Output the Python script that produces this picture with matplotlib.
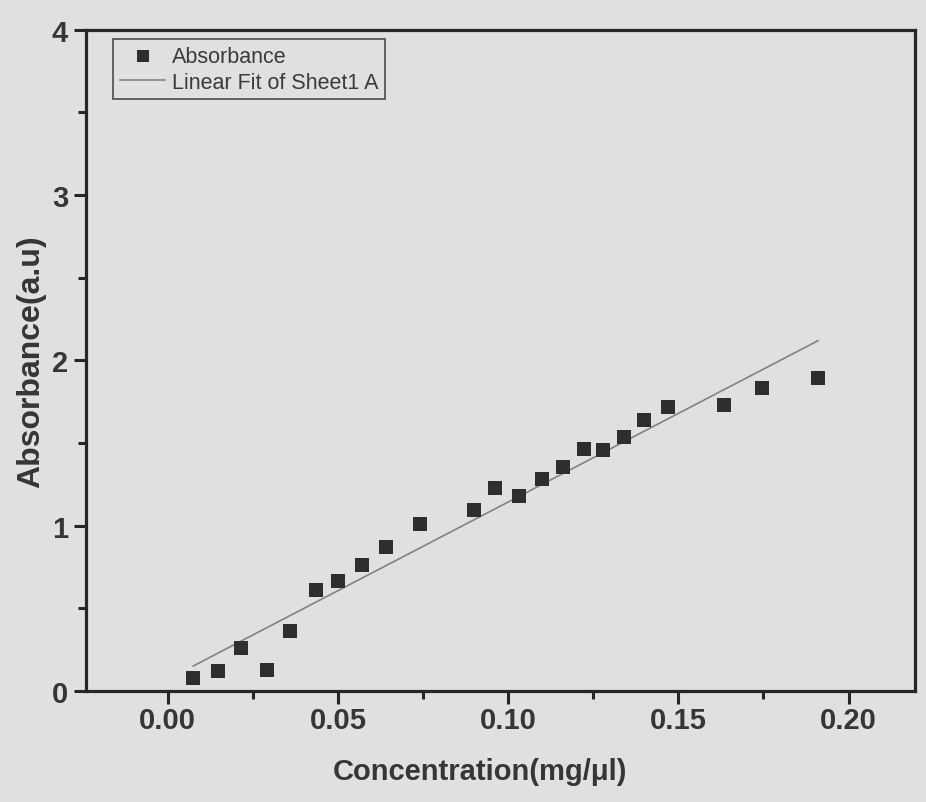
import numpy as np
import matplotlib
matplotlib.use("Agg")
import matplotlib.pyplot as plt
from matplotlib.ticker import MultipleLocator

# Data
concentration = [0.0075, 0.0147, 0.0216, 0.0290, 0.0360, 0.0434, 0.0500, 0.0570,
                 0.0640, 0.0740, 0.0900, 0.0960, 0.1033, 0.1099, 0.1160, 0.1224,
                 0.1280, 0.1340, 0.1400, 0.1470, 0.1635, 0.1745, 0.1910]
absorbance = [0.08, 0.12, 0.26, 0.13, 0.365, 0.61, 0.665, 0.765,
              0.87, 1.01, 1.095, 1.23, 1.18, 1.28, 1.355, 1.465,
              1.46, 1.535, 1.64, 1.72, 1.73, 1.835, 1.895]
x_ticks = [0.00, 0.05, 0.10, 0.15, 0.20]
x_ticklabels = ["0.00", "0.05", "0.10", "0.15", "0.20"]
y_ticks = [0, 1, 2, 3, 4]
y_ticklabels = ["0", "1", "2", "3", "4"]

plt.rcParams['font.family'] = ['Liberation Sans', 'DejaVu Sans']

bg = '#e0e1df'
fig = plt.figure(figsize=(9.26, 8.03), dpi=100, facecolor=bg)
ax = fig.add_axes([0.093, 0.138, 0.895, 0.824], facecolor=bg)

x = np.array(concentration)
y = np.array(absorbance)
slope, intercept = np.polyfit(x, y, 1)
xf = np.array([x.min(), x.max()])

ax.scatter(x, y, marker='s', s=110, color='#2e2e2e', zorder=3, label='Absorbance',
           linewidths=0)
ax.plot(xf, slope * xf + intercept, color='#8c7e80', lw=1.2, label='Linear Fit of Sheet1 A',
        zorder=2)

ax.set_xlim(-0.024, 0.2195)
ax.set_ylim(0, 4)
ax.set_xticks(x_ticks)
ax.set_xticklabels(x_ticklabels)
ax.set_yticks(y_ticks)
ax.set_yticklabels(y_ticklabels)
ax.xaxis.set_minor_locator(MultipleLocator(0.025))
ax.yaxis.set_minor_locator(MultipleLocator(0.5))

for s in ax.spines.values():
    s.set_linewidth(2.3)
    s.set_color('#262626')

ax.tick_params(axis='both', which='major', direction='out', length=9, width=2.2,
               color='#262626', labelsize=21, labelcolor='#363636', pad=4)
ax.tick_params(axis='x', which='major', pad=2)
ax.tick_params(axis='both', which='minor', direction='out', length=5.5, width=2.2,
               color='#262626')
ax.tick_params(top=False, right=False, which='both')
for lab in ax.get_xticklabels() + ax.get_yticklabels():
    lab.set_fontweight('bold')

ax.set_xlabel('Concentration(mg/μl)', fontsize=21, fontweight='bold', color='#363636')
ax.xaxis.set_label_coords(0.475, -0.099)
ax.set_ylabel('Absorbance(a.u)', fontsize=23, fontweight='bold', color='#363636')
ax.yaxis.set_label_coords(-0.048, 0.5)

leg = ax.legend(loc='upper left', bbox_to_anchor=(0.033, 0.985), fontsize=15.5,
                frameon=True, fancybox=False, handlelength=2.1, borderpad=0.3,
                labelspacing=0.22, handletextpad=0.3, markerscale=0.85,
                borderaxespad=0.0)
leg.get_frame().set_edgecolor('#333333')
leg.get_frame().set_linewidth(1.3)
leg.get_frame().set_facecolor(bg)
for t in leg.get_texts():
    t.set_color('#3a3a3a')

fig.savefig('out.png', dpi=100, facecolor=bg)
